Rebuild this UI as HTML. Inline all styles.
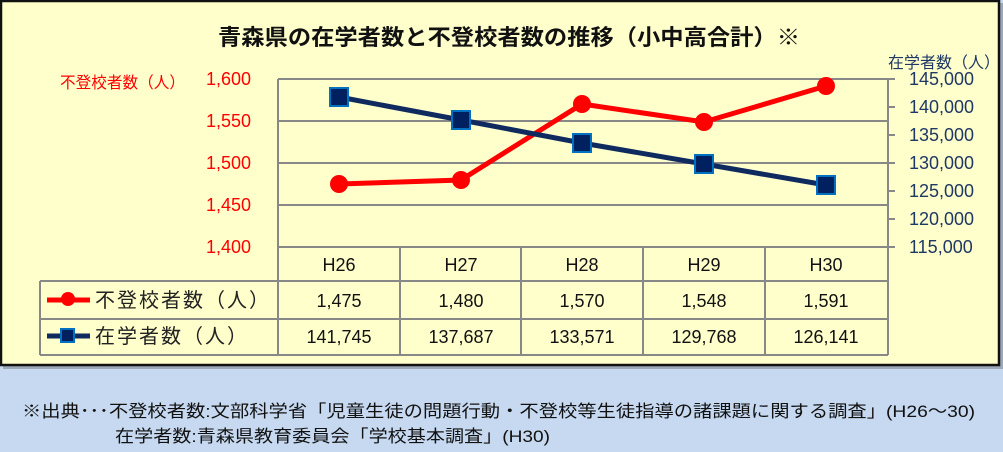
<!DOCTYPE html>
<html><head><meta charset="utf-8"><style>
body{margin:0;width:1003px;height:447px;background:#c6d9f0;overflow:hidden;font-family:"Liberation Sans","Noto Sans CJK JP",sans-serif;}
svg text{font-family:"Liberation Sans","Noto Sans CJK JP",sans-serif;}
</style></head><body>
<svg width="1003" height="447" xmlns="http://www.w3.org/2000/svg">
<rect x="3" y="3" width="1000" height="366" fill="#9aa8b8"/>
<rect x="1" y="1" width="998" height="364" fill="#ffffcc" stroke="#111" stroke-width="2.5"/>
<text x="218" y="45" font-size="22" font-weight="bold" fill="#111" textLength="582" lengthAdjust="spacingAndGlyphs">青森県の在学者数と不登校者数の推移（小中高合計）※</text>
<text x="60" y="88" font-size="16" fill="#ff0000" textLength="125" lengthAdjust="spacingAndGlyphs">不登校者数（人）</text>
<text x="888" y="68" font-size="16" fill="#1f3864" textLength="112" lengthAdjust="spacingAndGlyphs">在学者数（人）</text>
<g font-size="18" fill="#ff0000" text-anchor="end">
<text x="251" y="85">1,600</text><text x="251" y="127">1,550</text><text x="251" y="169">1,500</text><text x="251" y="211">1,450</text><text x="251" y="253">1,400</text></g>
<g font-size="18" fill="#1f3864">
<text x="909" y="85">145,000</text><text x="909" y="113">140,000</text><text x="909" y="141">135,000</text><text x="909" y="169">130,000</text><text x="909" y="197">125,000</text><text x="909" y="225">120,000</text><text x="909" y="253">115,000</text></g>
<g stroke="#888" stroke-width="2" fill="none">
<line x1="278" y1="79" x2="888" y2="79"/><line x1="278" y1="121" x2="888" y2="121"/><line x1="278" y1="163" x2="888" y2="163"/><line x1="278" y1="205" x2="888" y2="205"/>
<line x1="278" y1="79" x2="278" y2="355"/><line x1="888" y1="79" x2="888" y2="355"/>
<line x1="888" y1="107" x2="895" y2="107"/><line x1="888" y1="135" x2="895" y2="135"/><line x1="888" y1="191" x2="895" y2="191"/><line x1="888" y1="219" x2="895" y2="219"/><line x1="888" y1="79" x2="895" y2="79"/><line x1="888" y1="163" x2="895" y2="163"/><line x1="888" y1="247" x2="895" y2="247"/>
<line x1="278" y1="247" x2="888" y2="247"/><line x1="40" y1="281" x2="888" y2="281"/><line x1="40" y1="319" x2="888" y2="319"/><line x1="40" y1="355" x2="888" y2="355"/>
<line x1="40" y1="281" x2="40" y2="355"/>
<line x1="400" y1="247" x2="400" y2="355"/><line x1="521" y1="247" x2="521" y2="355"/><line x1="643" y1="247" x2="643" y2="355"/><line x1="765" y1="247" x2="765" y2="355"/></g>
<polyline points="339,184 461,180 582,104 704,122 826,86" fill="none" stroke="#ff0000" stroke-width="5"/>
<g fill="#ff0000"><circle cx="339" cy="184" r="9"/><circle cx="461" cy="180" r="9"/><circle cx="582" cy="104" r="9"/><circle cx="704" cy="122" r="9"/><circle cx="826" cy="86" r="9"/></g>
<polyline points="339,97 461,120 582,143 704,164 826,185" fill="none" stroke="#0f2a5e" stroke-width="5"/>
<g fill="#002060" stroke="#0070c0" stroke-width="2">
<rect x="330" y="88" width="18" height="18"/><rect x="452" y="111" width="18" height="18"/><rect x="573" y="134" width="18" height="18"/><rect x="695" y="155" width="18" height="18"/><rect x="817" y="176" width="18" height="18"/></g>
<g font-size="18" fill="#111" text-anchor="middle">
<text x="339" y="271">H26</text><text x="461" y="271">H27</text><text x="582" y="271">H28</text><text x="704" y="271">H29</text><text x="826" y="271">H30</text>
<text x="339" y="307">1,475</text><text x="461" y="307">1,480</text><text x="582" y="307">1,570</text><text x="704" y="307">1,548</text><text x="826" y="307">1,591</text>
<text x="339" y="343">141,745</text><text x="461" y="343">137,687</text><text x="582" y="343">133,571</text><text x="704" y="343">129,768</text><text x="826" y="343">126,141</text></g>
<line x1="47" y1="300" x2="90" y2="300" stroke="#ff0000" stroke-width="5"/><circle cx="68" cy="299" r="7" fill="#ff0000"/>
<line x1="47" y1="336" x2="90" y2="336" stroke="#0f2a5e" stroke-width="5"/><rect x="61" y="329" width="13" height="13" fill="#002060" stroke="#0070c0" stroke-width="2"/>
<text x="95" y="307" font-size="20" fill="#222" letter-spacing="2">不登校者数（人）</text>
<text x="95" y="343" font-size="20" fill="#222" letter-spacing="2">在学者数（人）</text>
<text x="22" y="417" font-size="17" fill="#111" textLength="953" lengthAdjust="spacingAndGlyphs">※出典･･･不登校者数:文部科学省「児童生徒の問題行動・不登校等生徒指導の諸課題に関する調査」(H26～30)</text>
<text x="115" y="442" font-size="17" fill="#111" textLength="435" lengthAdjust="spacingAndGlyphs">在学者数:青森県教育委員会「学校基本調査」(H30)</text>
</svg>
</body></html>
